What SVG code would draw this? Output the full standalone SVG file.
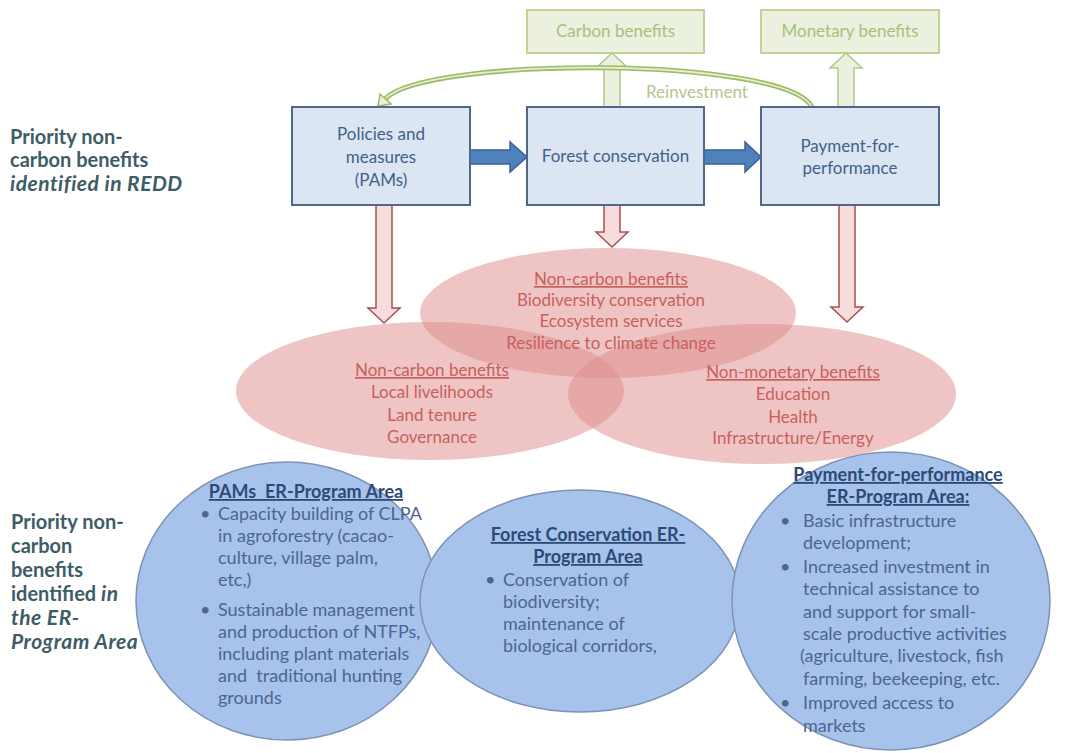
<svg xmlns="http://www.w3.org/2000/svg" width="1068" height="753" viewBox="0 0 1068 753">
<style>
text{font-family:Lato,"Open Sans","Liberation Sans",sans-serif}
.box{fill:#dce6f2;stroke:#4f6788;stroke-width:2}
.btxt{font-size:17px;fill:#42608a;text-anchor:middle}
.gbox{fill:#ebf1de;stroke:#bfd397;stroke-width:2}
.gtxt{font-size:17px;fill:#a9bf7c;text-anchor:middle}
.blue{fill:#4f81bd;stroke:#3a6397;stroke-width:1.5}
.garr{fill:#ebf1de;stroke:#b3c98a;stroke-width:1.5}
.rarr{fill:#f6dcdb;stroke:#a8504e;stroke-width:1.5}
.pink{fill:#dd8c8a;opacity:0.5}
.ptxt{font-size:17px;fill:#c9605e;text-anchor:middle}
.ul{text-decoration:underline}
.circ{fill:#a7c3ec;stroke:#7d93b5;stroke-width:1.5}
.ctxt{font-size:18px;fill:#4b6690}
.chd{font-size:18px;fill:#2c4a76;font-weight:bold;text-decoration:underline;text-anchor:middle;white-space:pre}
.lbl{font-size:20px;fill:#3d5c66;font-weight:bold}
.it{font-style:italic;font-size:21px;letter-spacing:0.5px}
</style>

<g id="label-redd">
<text class="lbl" x="10" y="144">Priority non-</text>
<text class="lbl" x="10" y="167">carbon benefits</text>
<text class="lbl it" x="10" y="191">identified in REDD</text>
</g>

<g id="label-er">
<text class="lbl" x="11" y="529">Priority non-</text>
<text class="lbl" x="11" y="553">carbon</text>
<text class="lbl" x="11" y="577">benefits</text>
<text class="lbl" x="11" y="601">identified <tspan class="it">in</tspan></text>
<text class="lbl it" x="11" y="625">the ER-</text>
<text class="lbl it" x="11" y="649">Program Area</text>
</g>

<g id="carbon-benefits">
<rect class="gbox" x="527" y="10" width="177" height="43"/>
<text class="gtxt" x="615.5" y="37">Carbon benefits</text>
</g>
<g id="monetary-benefits">
<rect class="gbox" x="761" y="10" width="178" height="43"/>
<text class="gtxt" x="850" y="37">Monetary benefits</text>
</g>

<g id="pink-top">
<ellipse class="pink" cx="608" cy="313" rx="188" ry="65"/>
</g>
<g id="pink-left">
<ellipse class="pink" cx="430" cy="391" rx="194" ry="69"/>
</g>
<g id="pink-right">
<ellipse class="pink" cx="762" cy="394" rx="194" ry="70"/>
</g>
<g id="pink-texts">
<text class="ptxt ul" x="611" y="285">Non-carbon benefits</text>
<text class="ptxt" x="611" y="306">Biodiversity conservation</text>
<text class="ptxt" x="611" y="327">Ecosystem services</text>
<text class="ptxt" x="611" y="349">Resilience to climate change</text>
<text class="ptxt ul" x="432" y="376">Non-carbon benefits</text>
<text class="ptxt" x="432" y="398">Local livelihoods</text>
<text class="ptxt" x="432" y="421">Land tenure</text>
<text class="ptxt" x="432" y="443">Governance</text>
<text class="ptxt ul" x="793" y="378">Non-monetary benefits</text>
<text class="ptxt" x="793" y="400">Education</text>
<text class="ptxt" x="793" y="423">Health</text>
<text class="ptxt" x="793" y="444">Infrastructure/Energy</text>
</g>

<g id="connectors">
<polygon class="blue" points="470,150 510,150 510,142 527,157 510,172 510,164 470,164"/>
<polygon class="blue" points="704,150 745,150 745,142 761,157 745,172 745,164 704,164"/>
<polygon class="garr" points="604,107 604,68 596,68 612,53 628,68 620,68 620,107"/>
<polygon class="garr" points="838,107 838,68 830,68 846,53 862,68 854,68 854,107"/>
<polygon class="rarr" points="376,205 376,308 368,308 384,323 400,308 392,308 392,205"/>
<polygon class="rarr" points="604,205 604,232 596,232 612,247 628,232 620,232 620,205"/>
<polygon class="rarr" points="839,205 839,307 831,307 847,322 863,307 855,307 855,205"/>
<path d="M 812 107 C 785 56, 425 56, 385 99" fill="none" stroke="#9fba62" stroke-width="5"/>
<path d="M 812 107 C 785 56, 425 56, 385 99" fill="none" stroke="#e3ecd0" stroke-width="1.8"/>
<polygon points="380,94 391,104 378,106" fill="#ebf1de" stroke="#9fba62" stroke-width="1.5"/>
<text x="646" y="98" font-size="17" fill="#b3c78d">Reinvestment</text>
</g>

<g id="pams">
<rect class="box" x="292" y="107" width="178" height="98"/>
<text class="btxt" x="381" y="140">Policies and</text>
<text class="btxt" x="381" y="163">measures</text>
<text class="btxt" x="381" y="186">(PAMs)</text>
</g>
<g id="forest-conservation">
<rect class="box" x="527" y="107" width="177" height="98"/>
<text class="btxt" x="615.5" y="162">Forest conservation</text>
</g>
<g id="payment-for-performance">
<rect class="box" x="761" y="107" width="178" height="98"/>
<text class="btxt" x="850" y="152">Payment-for-</text>
<text class="btxt" x="850" y="174">performance</text>
</g>

<g id="pams-er">
<ellipse class="circ" cx="287" cy="601" rx="151" ry="139"/>
<text class="chd" x="306" y="498">PAMs  ER-Program Area</text>
<g class="ctxt">
<text x="200" y="520">•</text>
<text x="218" y="520">Capacity building of CLPA</text>
<text x="218" y="542">in agroforestry (cacao-</text>
<text x="218" y="564">culture, village palm,</text>
<text x="218" y="586">etc,)</text>
<text x="200" y="616">•</text>
<text x="218" y="616">Sustainable management</text>
<text x="218" y="638">and production of NTFPs,</text>
<text x="218" y="660">including plant materials</text>
<text x="218" y="682" style="white-space:pre">and  traditional hunting</text>
<text x="218" y="704">grounds</text>
</g>
</g>

<g id="forest-er">
<ellipse class="circ" cx="580" cy="601" rx="160" ry="111"/>
<text class="chd" x="588" y="541">Forest Conservation ER-</text>
<text class="chd" x="588" y="563">Program Area</text>
<g class="ctxt">
<text x="485" y="586">•</text>
<text x="503" y="586">Conservation of</text>
<text x="503" y="608">biodiversity;</text>
<text x="503" y="630">maintenance of</text>
<text x="503" y="652">biological corridors,</text>
</g>
</g>

<g id="payment-er">
<ellipse class="circ" cx="891" cy="601" rx="159" ry="149"/>
<text class="chd" x="898" y="481">Payment-for-performance</text>
<text class="chd" x="898" y="503">ER-Program Area:</text>
<g class="ctxt">
<text x="780" y="527">•</text>
<text x="803" y="527">Basic infrastructure</text>
<text x="803" y="549">development;</text>
<text x="780" y="573">•</text>
<text x="803" y="573">Increased investment in</text>
<text x="803" y="595">technical assistance to</text>
<text x="803" y="618">and support for small-</text>
<text x="803" y="640">scale productive activities</text>
<text x="800" y="662">(agriculture, livestock, fish</text>
<text x="803" y="685">farming, beekeeping, etc.</text>
<text x="780" y="709">•</text>
<text x="803" y="709">Improved access to</text>
<text x="803" y="732">markets</text>
</g>
</g>
</svg>
